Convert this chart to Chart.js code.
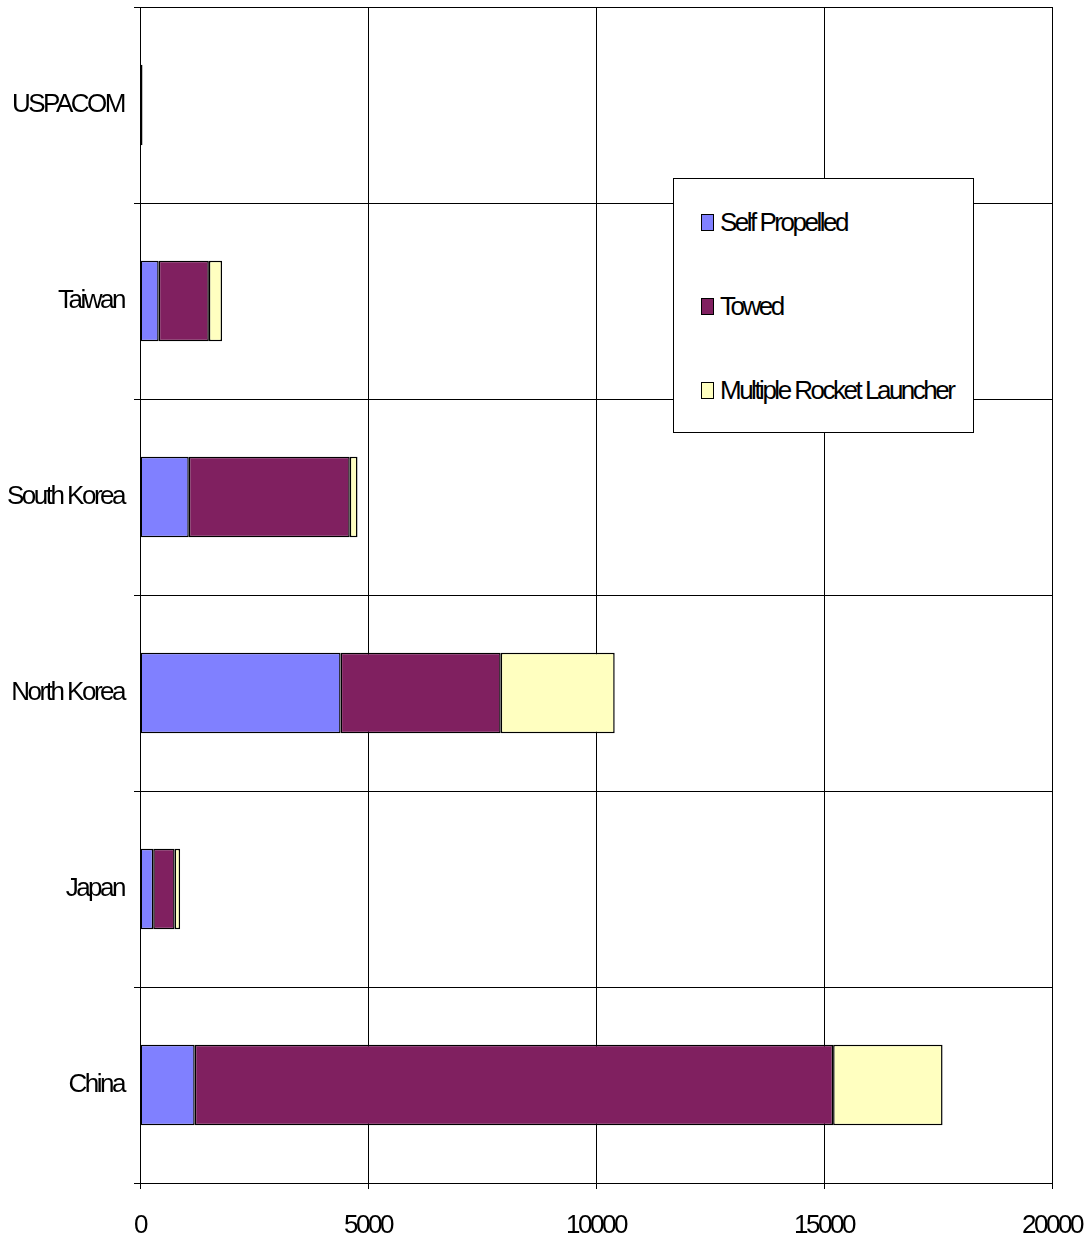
<!DOCTYPE html>
<html lang="en">

<head>
    <meta charset="UTF-8">
    <title>Artillery by Country</title>
    <script src="https://cdn.jsdelivr.net/npm/chart.js"></script>
    <style>
        html, body {
            margin: 0;
            padding: 0;
            background: #fff;
        }

        .wrap {
            position: relative;
            width: 1091px;
            height: 1238px;
        }

        #legend {
            position: absolute;
            left: 673px;
            top: 178px;
            width: 301px;
            height: 255px;
            border: 1px solid #000;
            background: #fff;
            box-sizing: border-box;
            font-family: 'Liberation Sans', Arial, sans-serif;
            font-size: 26px;
            letter-spacing: -2.5px;
        }

        #legend .item {
            position: absolute;
            left: 27px;
            display: flex;
            align-items: center;
            height: 30px;
        }

        #legend .box {
            width: 11px;
            height: 15px;
            border: 1px solid #000;
            margin-right: 6px;
        }
    </style>
</head>

<body>
    <div class="wrap">
        <canvas id="artChart" width="1091" height="1238"></canvas>
        <div id="legend"></div>
    </div>

    <script>
        const countries = ['USPACOM', 'Taiwan', 'South Korea', 'North Korea', 'Japan', 'China'];
        const selfPropelled = [55, 410, 1070, 4400, 290, 1200];
        const towed = [0, 1100, 3530, 3510, 470, 14000];
        const rocketLaunchers = [0, 290, 170, 2500, 120, 2400];
        const xTicks = [0, 5000, 10000, 15000, 20000];

        const seriesNames = ['Self Propelled', 'Towed', 'Multiple Rocket Launcher'];
        const seriesColors = ['#8080FF', '#802060', '#FFFFC0'];
        const seriesData = [selfPropelled, towed, rocketLaunchers];

        const labelFont = { family: "'Liberation Sans', Arial, sans-serif", size: 26 };

        // squeeze letters like the original condensed Arial
        const tightText = {
            id: 'tightText',
            beforeLayout(chart) { chart.ctx.letterSpacing = '-2.5px'; },
            beforeDraw(chart) { chart.ctx.letterSpacing = '-2.5px'; }
        };

        const ctx = document.getElementById('artChart').getContext('2d');
        const artChart = new Chart(ctx, {
            type: 'bar',
            data: {
                labels: countries,
                datasets: seriesNames.map((name, i) => ({
                    label: name,
                    data: seriesData[i],
                    backgroundColor: seriesColors[i],
                    borderColor: '#000',
                    borderWidth: 1.5,
                    borderSkipped: false,
                    categoryPercentage: 0.41,
                    barPercentage: 1
                }))
            },
            options: {
                indexAxis: 'y',
                responsive: false,
                animation: false,
                layout: { padding: { top: 7, right: 39, left: 0, bottom: 0 } },
                plugins: {
                    legend: { display: false },
                    tooltip: { enabled: false }
                },
                scales: {
                    x: {
                        stacked: true,
                        min: 0,
                        max: 20000,
                        afterBuildTicks: (scale) => {
                            scale.ticks = xTicks.map(v => ({ value: v }));
                        },
                        afterFit: (scale) => {
                            scale.height = 55;
                            scale.paddingLeft = 0;
                            scale.paddingRight = 0;
                        },
                        grid: { color: '#000', lineWidth: 1, tickLength: 6 },
                        border: { color: '#000', width: 1 },
                        ticks: {
                            color: '#000', font: labelFont, padding: 21, maxRotation: 0,
                            callback: (v) => String(v)
                        }
                    },
                    y: {
                        stacked: true,
                        afterFit: (scale) => {
                            scale.width = 140;
                            scale.paddingTop = 0;
                            scale.paddingBottom = 0;
                        },
                        grid: { color: '#000', lineWidth: 1, tickLength: 6, offset: true },
                        border: { color: '#000', width: 1 },
                        ticks: { color: '#000', font: labelFont, padding: 10 }
                    }
                }
            },
            plugins: [tightText]
        });

        // legend box built from the series arrays
        const legend = document.getElementById('legend');
        const legendTops = [28, 112, 196];
        seriesNames.forEach((name, i) => {
            const item = document.createElement('div');
            item.className = 'item';
            item.style.top = legendTops[i] + 'px';
            item.innerHTML = '<span class="box" style="background:' + seriesColors[i] + '"></span><span>' + name + '</span>';
            legend.appendChild(item);
        });
    </script>
</body>

</html>
